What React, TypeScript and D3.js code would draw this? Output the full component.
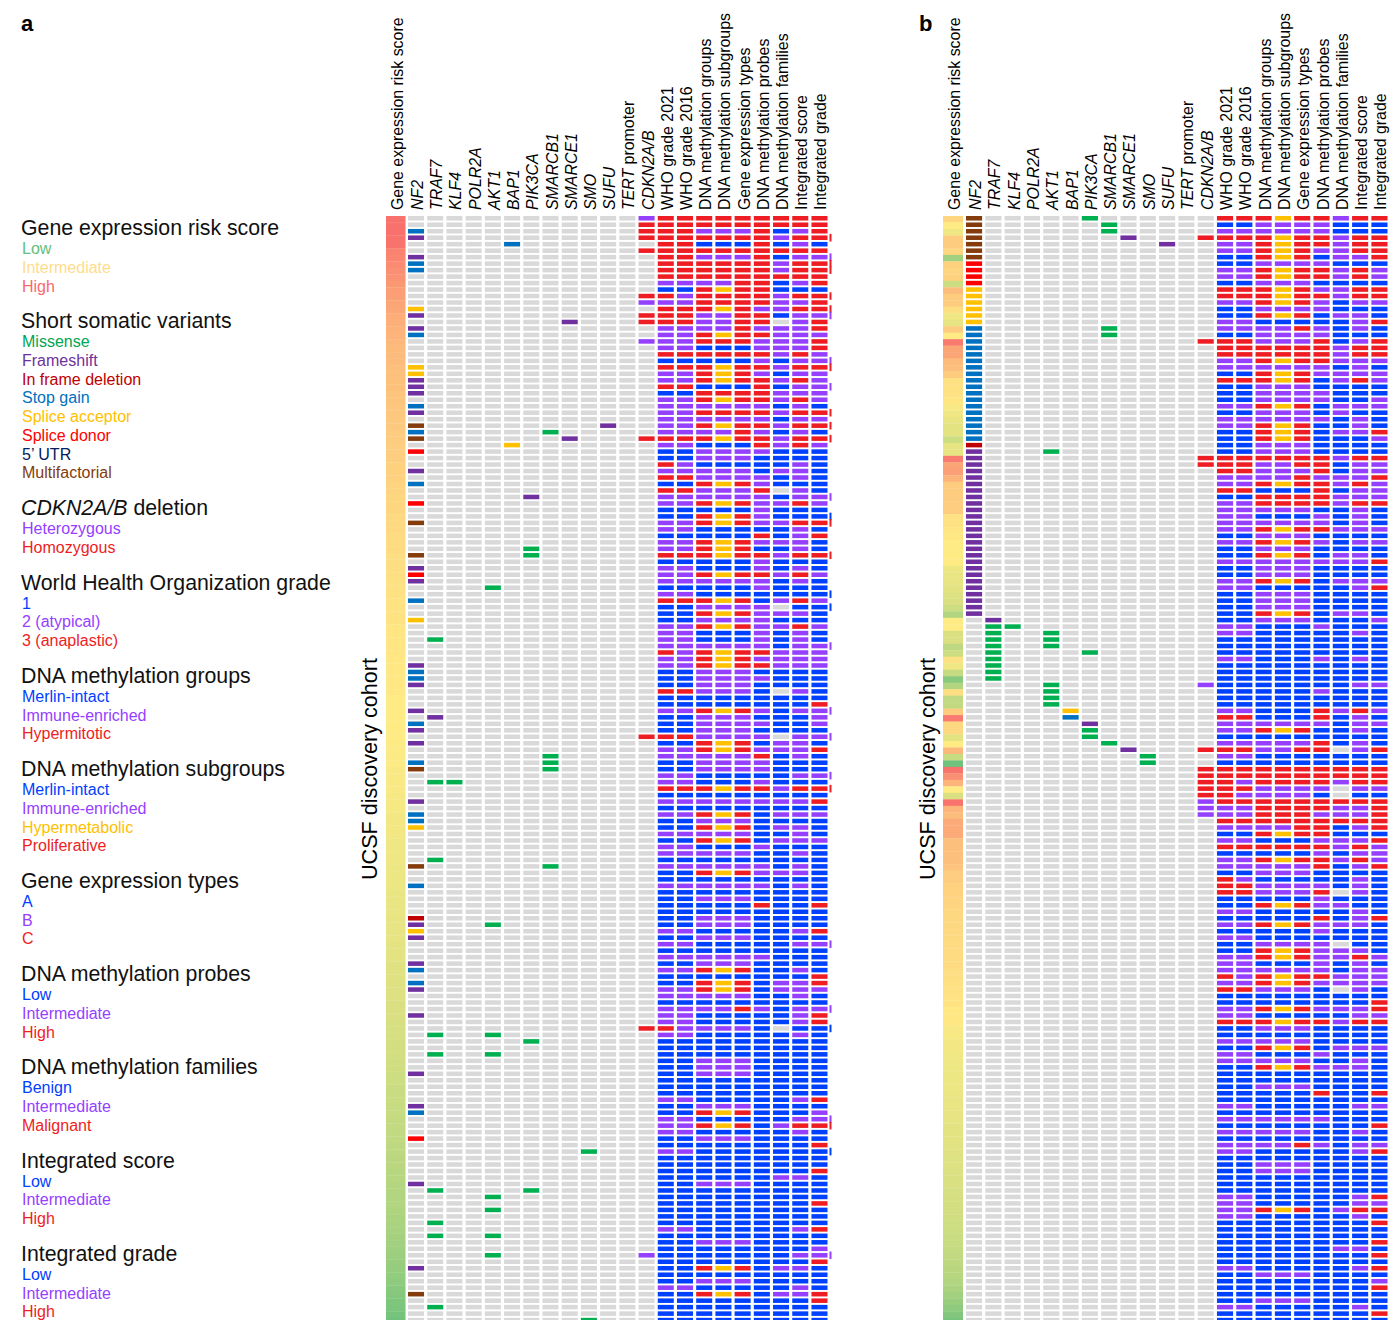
import React from "react";
import * as d3 from "d3";

const ROWS = 171;

const geneCols = ["NF2","TRAF7","KLF4","POLR2A","AKT1","BAP1","PIK3CA","SMARCB1","SMARCE1","SMO","SUFU","TERT","CDKN2A/B"];
const classCols = ["WHO grade 2021","WHO grade 2016","DNA methylation groups","DNA methylation subgroups","Gene expression types","DNA methylation probes","DNA methylation families","Integrated score","Integrated grade"];
const italicGenes = ["NF2","TRAF7","KLF4","POLR2A","AKT1","BAP1","PIK3CA","SMARCB1","SMARCE1","SMO","SUFU","CDKN2A/B"];

// Gene expression risk score (0 low .. 1 high), one per sample row
const riskA = [
0.97,0.97,0.97,0.96,0.96,0.90,0.89,0.87,0.85,0.84,
0.82,0.80,0.79,0.77,0.76,0.74,0.73,0.72,0.71,0.70,
0.69,0.69,0.68,0.67,0.67,0.66,0.66,0.65,0.65,0.64,
0.64,0.63,0.63,0.62,0.62,0.61,0.61,0.61,0.60,0.60,
0.60,0.59,0.59,0.58,0.58,0.58,0.57,0.57,0.57,0.56,
0.56,0.56,0.55,0.55,0.55,0.55,0.54,0.54,0.54,0.53,
0.53,0.53,0.53,0.52,0.52,0.52,0.52,0.52,0.51,0.51,
0.51,0.51,0.51,0.51,0.50,0.50,0.50,0.50,0.50,0.50,
0.50,0.49,0.49,0.49,0.49,0.48,0.48,0.48,0.48,0.47,
0.47,0.47,0.46,0.46,0.46,0.46,0.45,0.45,0.45,0.45,
0.44,0.44,0.44,0.44,0.43,0.43,0.43,0.43,0.42,0.42,
0.42,0.42,0.41,0.41,0.41,0.40,0.40,0.40,0.39,0.39,
0.39,0.38,0.38,0.38,0.37,0.37,0.37,0.36,0.36,0.36,
0.35,0.35,0.34,0.34,0.33,0.33,0.33,0.32,0.32,0.31,
0.31,0.30,0.30,0.29,0.29,0.28,0.28,0.27,0.27,0.26,
0.26,0.25,0.25,0.24,0.23,0.23,0.22,0.21,0.20,0.19,
0.18,0.17,0.16,0.15,0.14,0.12,0.11,0.09,0.08,0.06,
0.04];

const riskB = [
0.58,0.50,0.45,0.62,0.62,0.585,0.20,0.60,0.585,0.60,
0.34,0.68,0.62,0.62,0.55,0.45,0.42,0.62,0.50,0.93,
0.77,0.77,0.69,0.665,0.62,0.54,0.54,0.54,0.52,0.48,
0.45,0.43,0.41,0.41,0.34,0.42,0.42,0.93,0.77,0.79,
0.71,0.62,0.62,0.62,0.62,0.62,0.54,0.54,0.52,0.51,
0.50,0.50,0.50,0.50,0.44,0.43,0.42,0.41,0.39,0.38,
0.34,0.25,0.50,0.50,0.38,0.38,0.29,0.34,0.54,0.45,
0.315,0.12,0.25,0.55,0.30,0.30,0.62,0.93,0.575,0.575,
0.41,0.50,0.70,0.32,0.04,0.96,0.85,0.71,0.50,0.38,
0.96,0.71,0.68,0.75,0.75,0.75,0.665,0.665,0.665,0.665,
0.65,0.62,0.62,0.60,0.60,0.59,0.59,0.575,0.575,0.575,
0.57,0.57,0.565,0.565,0.56,0.56,0.55,0.55,0.54,0.54,
0.53,0.53,0.51,0.51,0.51,0.48,0.47,0.46,0.46,0.455,
0.45,0.45,0.445,0.44,0.44,0.435,0.43,0.43,0.425,0.42,
0.415,0.41,0.41,0.405,0.40,0.395,0.39,0.385,0.38,0.375,
0.37,0.365,0.36,0.355,0.35,0.34,0.335,0.33,0.32,0.31,
0.30,0.29,0.28,0.27,0.25,0.23,0.20,0.17,0.14,0.10,
0.07];

// Short somatic variants: [row, gene, type]
// m missense, f frameshift, d in-frame deletion, s stop gain, a splice acceptor, o splice donor, u 5'UTR, x multifactorial
const variantsA: [number, string, string][] = [
[2,"NF2","s"],[3,"NF2","f"],[6,"NF2","f"],[7,"NF2","s"],[8,"NF2","s"],[14,"NF2","a"],[15,"NF2","f"],[17,"NF2","f"],
[18,"NF2","s"],[23,"NF2","a"],[24,"NF2","a"],[25,"NF2","f"],[26,"NF2","f"],[27,"NF2","f"],[29,"NF2","s"],[30,"NF2","f"],
[32,"NF2","x"],[33,"NF2","s"],[34,"NF2","x"],[36,"NF2","o"],[39,"NF2","f"],[41,"NF2","s"],[44,"NF2","o"],[47,"NF2","x"],
[52,"NF2","x"],[54,"NF2","f"],[55,"NF2","o"],[56,"NF2","f"],[59,"NF2","s"],[62,"NF2","a"],[69,"NF2","f"],[70,"NF2","s"],
[71,"NF2","s"],[72,"NF2","f"],[76,"NF2","f"],[78,"NF2","s"],[79,"NF2","f"],[81,"NF2","f"],[84,"NF2","s"],[85,"NF2","x"],
[90,"NF2","f"],[92,"NF2","s"],[93,"NF2","s"],[94,"NF2","a"],[100,"NF2","x"],[103,"NF2","s"],[108,"NF2","d"],[109,"NF2","f"],
[110,"NF2","a"],[111,"NF2","f"],[115,"NF2","f"],[116,"NF2","s"],[118,"NF2","s"],[119,"NF2","f"],[123,"NF2","f"],[132,"NF2","f"],
[137,"NF2","f"],[138,"NF2","s"],[142,"NF2","o"],[149,"NF2","f"],[162,"NF2","f"],[166,"NF2","x"],
[4,"BAP1","s"],[16,"SMARCE1","f"],[32,"SUFU","f"],[33,"SMARCB1","m"],[34,"SMARCE1","f"],[35,"BAP1","a"],
[43,"PIK3CA","f"],[51,"PIK3CA","m"],[52,"PIK3CA","m"],[57,"AKT1","m"],[65,"TRAF7","m"],[77,"TRAF7","f"],
[83,"SMARCB1","m"],[84,"SMARCB1","m"],[85,"SMARCB1","m"],[87,"TRAF7","m"],[87,"KLF4","m"],[99,"TRAF7","m"],
[100,"SMARCB1","m"],[109,"AKT1","m"],[126,"TRAF7","m"],[126,"AKT1","m"],[127,"PIK3CA","m"],[129,"TRAF7","m"],
[129,"AKT1","m"],[144,"SMO","m"],[150,"TRAF7","m"],[150,"PIK3CA","m"],[151,"AKT1","m"],[153,"AKT1","m"],
[155,"TRAF7","m"],[157,"TRAF7","m"],[157,"AKT1","m"],[160,"AKT1","m"],[168,"TRAF7","m"],[170,"SMO","m"]
];

const variantsB: [number, string, string][] = [
[0,"NF2","x"],[1,"NF2","x"],[2,"NF2","x"],[3,"NF2","x"],[4,"NF2","x"],[5,"NF2","x"],[6,"NF2","x"],
[7,"NF2","o"],[8,"NF2","o"],[9,"NF2","o"],[10,"NF2","o"],
[11,"NF2","a"],[12,"NF2","a"],[13,"NF2","a"],[14,"NF2","a"],[15,"NF2","a"],[16,"NF2","a"],
[17,"NF2","s"],[18,"NF2","s"],[19,"NF2","s"],[20,"NF2","s"],[21,"NF2","s"],[22,"NF2","s"],[23,"NF2","s"],[24,"NF2","s"],
[25,"NF2","s"],[26,"NF2","s"],[27,"NF2","s"],[28,"NF2","s"],[29,"NF2","s"],[30,"NF2","s"],[31,"NF2","s"],[32,"NF2","s"],
[33,"NF2","s"],[34,"NF2","s"],[35,"NF2","d"],
[36,"NF2","f"],[37,"NF2","f"],[38,"NF2","f"],[39,"NF2","f"],[40,"NF2","f"],[41,"NF2","f"],[42,"NF2","f"],[43,"NF2","f"],
[44,"NF2","f"],[45,"NF2","f"],[46,"NF2","f"],[47,"NF2","f"],[48,"NF2","f"],[49,"NF2","f"],[50,"NF2","f"],[51,"NF2","f"],
[52,"NF2","f"],[53,"NF2","f"],[54,"NF2","f"],[55,"NF2","f"],[56,"NF2","f"],[57,"NF2","f"],[58,"NF2","f"],[59,"NF2","f"],
[60,"NF2","f"],[61,"NF2","f"],
[0,"PIK3CA","m"],[1,"SMARCB1","m"],[2,"SMARCB1","m"],[3,"SMARCE1","f"],[4,"SUFU","f"],[17,"SMARCB1","m"],[18,"SMARCB1","m"],
[36,"AKT1","m"],[62,"TRAF7","f"],[63,"TRAF7","m"],[63,"KLF4","m"],[64,"TRAF7","m"],[64,"AKT1","m"],[65,"TRAF7","m"],
[65,"AKT1","m"],[66,"TRAF7","m"],[66,"AKT1","m"],[67,"TRAF7","m"],[67,"PIK3CA","m"],[68,"TRAF7","m"],[69,"TRAF7","m"],
[70,"TRAF7","m"],[71,"TRAF7","m"],[72,"AKT1","m"],[73,"AKT1","m"],[74,"AKT1","m"],[75,"AKT1","m"],[76,"BAP1","a"],
[77,"BAP1","s"],[78,"PIK3CA","f"],[79,"PIK3CA","m"],[80,"PIK3CA","m"],[81,"SMARCB1","m"],[82,"SMARCE1","f"],
[83,"SMO","m"],[84,"SMO","m"]
];

// CDKN2A/B deletion: h heterozygous, H homozygous
const cdknA: [number, string][] = [[0,"h"],[1,"H"],[2,"H"],[3,"H"],[5,"H"],[12,"H"],[13,"h"],[15,"H"],[16,"H"],[19,"h"],[34,"H"],[80,"H"],[125,"H"],[160,"h"]];
const cdknB: [number, string][] = [[3,"H"],[19,"H"],[37,"H"],[38,"H"],[72,"h"],[82,"H"],[85,"H"],[86,"H"],[87,"H"],[88,"H"],[89,"H"],[90,"h"],[91,"h"],[92,"h"]];

// Classifications per sample (WHO21, WHO16, DMG, DMS, GET, DMP, DMF, IS, IG): b low/1/Merlin-intact, p intermediate, r high, y hypermetabolic, . missing
const classesA = [
"rrrrrrrrr","rrrrrrrrr","rrppprbpr","rrrrrrprr","rrbbbrbpb","rrrrrrrrr","rrppprbpp","rrrrrrprr","rrrrrrprr","rrrrrrrrr",
"pppprrbpr","bbryrrbbb","rprrrrprr","pprrrrppr","rrryrpprr","rrpprrbpp","rrpprr.pr","pppprpppr","ppryrrppp","pprrrpppr",
"ppbbbpppr","rrrrrrprp","bbbbbpbpp","rrryrrprr","ppryrpbpp","ppryrrprp","rrbbbrbpp","bbrrrrppp","ppryrrprp","ppppppbpb",
"pprrrrprr","ppppppbpp","ppryrrprr","pppprpbpb","rrryrrprr","ppbbbrprp","bbppppbbb","bbpppbbbb","rpbbbbbpb","pppppbppb",
"rrppppbpb","bbryrpbbb","rrpppr.pb","ppppppbpp","ppryrpprp","bbbbbpbbb","bbryrpbbb","ppryrpprr","ppbbbbbpb","bbbbbrbpr",
"ppryrpppb","ppryrbbpb","rrryrrprr","bbbbbpbbb","ppbbbpbpb","ppryrrprp","ppppppbpb","bbbbbpbbb","ppbbbbbbb","rrryrbprp",
"bbpppp.bb","bbryrpppb","bbppppbbb","ppryrpprp","ppbbbpbpb","ppbbbpbpb","ppppppbpp","rpryrrppp","ppryrpppp","ppryrrppp",
"bbpppbbbb","bbppppbbb","bbpppbbbb","rrpppb.pb","bbbbbbbbb","bbbbbbbbr","ppryrpbpp","bbpppbbbp","bbppppbbp","bbpppbbbb",
"rrpppp.pp","bbryrbppb","ppryrpppr","ppppprbpb","bbppppbbb","bbppppbbb","ppbbbbbpp","ppbbbpbbb","rrryrrprr","bbbbbbbbb",
"ppppppppr","bbbbbbbbb","ppryrbppp","bbpppbbbb","bbryrbppb","pppppbbpb","bbryrbppp","ppbbbpbbb","pppppbbpb","bbbbbbbbb",
"ppppppbpb","bbryrpppb","bbbbbbbbb","ppppppbpb","bbbbbbbbb","bbpppbbbb","bbbbbrbbr","bbbbbbbbb","bbpppbbbb","bbpppbbbb",
"ppbbbbbpr","bbpppbbbb","ppbbbbbpp","bbbbbbbbb","ppppppbbb","bbpppbbbb","ppryrbbpb","bbbbbbbbr","bbryrbppr","ppryrbppp",
"pppppbbpb","bbbbbbbbb","pppprpbpp","ppbbbbbpr","ppbbbbbpr","rppppb.bb","ppbbbbbpb","bbbbbbbbb","bbbbbbbbb","bbbbbbbbb",
"bbpppbbbb","bbpppbbbb","bbpppbbbb","bbbbbbbbb","bbbbbbbbb","bbbbbbbbb","ppbbbbbpr","bbpppbbbb","bbryrbbbp","ppbbbbbpp",
"ppryrbprr","ppbbbbbpb","bbpppbbbb","bbbbbbbbr","ppbbbbbbb","bbbbbbbbb","bbbbbbbbb","bbbbbbbbr","bbbbbbppb","bbpppbbbb",
"bbbbbbbbb","bbbbbbbbb","bbbbbbbbr","bbbbbbbbb","bbbbbbbbb","bbbbbbbbb","ppbbbbbpr","bbbbbbbbb","bbpppbbbb","bbbbbbbbp",
"bbbbbbbpp","bbbbbbbbr","bbryrbppb","bbbbbbbbb","bbpppbbbb","ppbbbbbpb","bbryrbppr","bbbbbbbbr","bbbbbbbbb","bbbbbbbbb",
"bbbbbbbbb"
];

const classesB = [
"rrryrrprr","bbppppbbb","ppppppbbb","rrryrrprr","ppryrrprr","ppryrpprr","bbryrbppr","bbppppbbb","ppryrrprp","ppryrrprp",
"bbpppbbbb","rrryrpprr","rrryrrprr","ppryrpbpp","bbppppbbb","bbryrbppb","ppbbbbbpr","pppprpbpb","bbppppbbb","rrppprbpr",
"rrrrrrprr","rrrrrrprr","ppryrrppp","ppppppbpb","bbryrpppp","rrryrbprp","bbpppbbbb","bbppppbbb","bbppppbbp","ppryrbppp",
"bbpppbpbb","ppppppbpb","ppryrbbpb","bbryrbppr","bbryrbbbp","bbpppbbbb","bbpppbbbb","rrrrrrprr","rrpprrbpp","rrppprbpp",
"pppprpppr","ppryrrprp","rrbbbrbpp","bbrrrrppp","pprrrrprr","pppppbbpb","ppbbbpbpb","ppppppbpb","ppryrrppp","bbpppbbbb",
"ppryrpbpp","bbpppbbbb","bbryrbppb","ppppppppr","bbpppbbbb","bbpppbbbb","ppryrbppp","ppbbbbbpr","bbpppbbbb","bbpppbbbb",
"bbpppbbbb","bbryrbppb","bbpppbbbp","ppbbbpbbb","ppbbbbbpb","bbbbbbbbb","bbbbbbbbb","bbbbbbbbb","ppbbbpbpb","bbbbbbbbb",
"bbbbbbbbb","bbbbbbbbb","bbbbbbbpp","bbbbbpbbb","bbbbbbbbb","bbbbbbbbb","ppbbbrprp","rrbbbrbpb","ppppppbpp","ppryrbbpb",
"bbbbbbbbb","ppppprbpb","rrpprr.pr","ppbbbbbbb","bbbbbbbbb","rrrrrrrrr","rrrrrrrrr","rprrrrprr","rrpppp.pp","rppppb.bb",
"rrrrrrrrr","pprrrrppr","pprrrpppr","rrrrrrrrr","pppprrbpr","bbryrrbbb","ppbbbpppr","rrrrrrprp","bbbbbpbpp","ppryrrprp",
"ppppprbpr","bbpppbbbb","rpbbbbbpb","rrppppbpb","rrpppr.pb","bbbbbpbbb","bbryrppbb","ppbbbbbpb","bbbbbrbpr","ppryrpppb",
"bbbbbpbbb","ppbbbbbbb","bbpppp.bb","bbryrpppb","ppryrpprp","ppbbbpbpb","ppppppbpp","rpryrrppp","ppryrpppp","rrpppb.pb",
"bbbbbbbbb","bbbbbbbbr","ppryrpppr","ppbbbbbpp","rrryrrprr","bbpppbbbb","bbbbbbbbb","pppppbbbb","bbryrbppp","ppbbbpbbb",
"pppppbbpb","bbryrpppb","bbbbbbbbb","bbbbbbbbb","bbpppbbbb","bbbbbrbbr","bbbbbbbbb","ppbbbbbpp","bbbbbbbbb","ppppppbbb",
"bbbbbbbbr","pppppbbpb","bbbbbbbbb","pppprpbpp","ppbbbbbpr","bbbbbbbbb","bbpppbbbb","bbpppbbbb","bbbbbbbbb","bbbbbbbbb",
"bbbbbbbbb","ppbbbbbpr","ppbbbbbpp","ppryrbprr","ppbbbbbpb","bbbbbbbbr","bbbbbbbbb","bbbbbbbbb","bbbbbbbbr","bbbbbbppb",
"bbbbbbbbr","bbbbbbbbb","ppbbbbbpr","bbpppbbbb","bbbbbbbbp","bbbbbbbbr","bbbbbbbbb","bbpppbbbb","ppbbbbbpb","bbbbbbbbr",
"bbbbbbbbb"
];

// small clipped marks right of panel a
const edgeMarksA: [number, string][] = [
[3,"r"],[6,"p"],[7,"r"],[8,"r"],[12,"r"],[14,"r"],[15,"p"],[22,"p"],[23,"r"],[26,"p"],[30,"r"],[32,"r"],[34,"r"],
[43,"p"],[46,"b"],[47,"r"],[52,"r"],[58,"b"],[60,"b"],[66,"p"],[76,"p"],[80,"p"],[86,"p"],[88,"r"],[112,"p"],
[122,"p"],[125,"b"],[139,"p"],[140,"r"],[144,"b"],[160,"p"]
];

const variantColor: Record<string, string> = {
  m: "#00B050", f: "#7030A0", d: "#C00000", s: "#0070C0", a: "#FFC000", o: "#FF0000", u: "#002060", x: "#843C0C",
};
const cdknColor: Record<string, string> = { h: "#9540FF", H: "#EE1D23" };
const classColor: Record<string, string> = { b: "#0040FF", p: "#9540FF", r: "#EE1D23", y: "#FFC000", ".": "#D9D9D9" };
const GRAY = "#D9D9D9";

const riskColor = d3.scaleLinear<string>().domain([0, 0.5, 1]).range(["#63BE7B", "#FFEB84", "#F8696B"]);

const legendGroups: { title: string; italicPart?: string; items: [string, string][] }[] = [
  { title: "Gene expression risk score", items: [["Low", "#63BE7B"], ["Intermediate", "#FFDC8C"], ["High", "#F8696B"]] },
  { title: "Short somatic variants", items: [["Missense", "#00A651"], ["Frameshift", "#7030A0"], ["In frame deletion", "#C00000"], ["Stop gain", "#0070C0"], ["Splice acceptor", "#FFC000"], ["Splice donor", "#FF0000"], ["5\u2019 UTR", "#002060"], ["Multifactorial", "#843C0C"]] },
  { title: " deletion", italicPart: "CDKN2A/B", items: [["Heterozygous", "#9540FF"], ["Homozygous", "#EE1D23"]] },
  { title: "World Health Organization grade", items: [["1", "#0040FF"], ["2 (atypical)", "#9540FF"], ["3 (anaplastic)", "#EE1D23"]] },
  { title: "DNA methylation groups", items: [["Merlin-intact", "#0040FF"], ["Immune-enriched", "#9540FF"], ["Hypermitotic", "#EE1D23"]] },
  { title: "DNA methylation subgroups", items: [["Merlin-intact", "#0040FF"], ["Immune-enriched", "#9540FF"], ["Hypermetabolic", "#FFC000"], ["Proliferative", "#EE1D23"]] },
  { title: "Gene expression types", items: [["A", "#0040FF"], ["B", "#9540FF"], ["C", "#EE1D23"]] },
  { title: "DNA methylation probes", items: [["Low", "#0040FF"], ["Intermediate", "#9540FF"], ["High", "#EE1D23"]] },
  { title: "DNA methylation families", items: [["Benign", "#0040FF"], ["Intermediate", "#9540FF"], ["Malignant", "#EE1D23"]] },
  { title: "Integrated score", items: [["Low", "#0040FF"], ["Intermediate", "#9540FF"], ["High", "#EE1D23"]] },
  { title: "Integrated grade", items: [["Low", "#0040FF"], ["Intermediate", "#9540FF"], ["High", "#EE1D23"]] },
];

const FONT = "'Liberation Sans', Arial, Helvetica, sans-serif";
const HEADER_FS = 15.9;

const rowScale = d3.scaleBand<number>()
  .domain(Array.from({ length: ROWS }, (_, i) => i))
  .range([216, 216 + ROWS * 6.47])
  .paddingInner(0.3)
  .paddingOuter(0);

const allCols = [...geneCols, ...classCols];

function Panel(props: {
  label: string; riskX: number; riskW: number; colRange: [number, number];
  risk: number[]; variants: [number, string, string][]; cdkn: [number, string][]; classes: string[];
  cohortX: number; marks?: [number, string][];
}) {
  const { label, riskX, riskW, colRange, risk, variants, cdkn, classes, cohortX, marks } = props;
  const x = d3.scaleBand<string>().domain(allCols).range(colRange).paddingInner(0.165).paddingOuter(0);
  const bw = x.bandwidth();
  const rh = rowScale.bandwidth();
  const step = rowScale.step();
  const varMap = new Map<string, string>();
  variants.forEach(([r, g, t]) => varMap.set(r + "|" + g, t));
  const cdknMap = new Map<number, string>(cdkn);
  const rows = Array.from({ length: ROWS }, (_, i) => i);
  const headerY = 210;
  return (
    <g>
      <text x={label === "a" ? 21 : 919} y={31} fontFamily={FONT} fontWeight="bold" fontSize={22}>{label}</text>
      {/* headers */}
      <text transform={`translate(${riskX + riskW / 2 + 1.5},${headerY}) rotate(-90)`} fontFamily={FONT} fontSize={HEADER_FS} dominantBaseline="central">Gene expression risk score</text>
      {allCols.map((c) => {
        const cx = (x(c) as number) + bw / 2 + 1;
        return (
          <text key={c} transform={`translate(${cx},${headerY}) rotate(-90)`} fontFamily={FONT} fontSize={HEADER_FS} dominantBaseline="central">
            {c === "TERT" ? (<><tspan fontStyle="italic">TERT</tspan><tspan> promoter</tspan></>) :
              <tspan fontStyle={italicGenes.includes(c) ? "italic" : "normal"}>{c}</tspan>}
          </text>
        );
      })}
      {/* risk column */}
      {rows.map((r) => (
        <rect key={"rk" + r} x={riskX} y={rowScale(r) as number} width={riskW} height={step + 0.3} fill={riskColor(risk[r])} />
      ))}
      {/* gene columns */}
      {rows.map((r) => geneCols.map((g) => {
        let fill = GRAY;
        if (g === "CDKN2A/B") {
          const c = cdknMap.get(r);
          if (c) fill = cdknColor[c];
        } else {
          const t = varMap.get(r + "|" + g);
          if (t) fill = variantColor[t];
        }
        return <rect key={g + r} x={x(g) as number} y={rowScale(r) as number} width={bw} height={rh} fill={fill} />;
      }))}
      {/* classification columns */}
      {rows.map((r) => classCols.map((c, j) => (
        <rect key={c + r} x={x(c) as number} y={rowScale(r) as number} width={bw} height={rh} fill={classColor[classes[r][j]]} />
      )))}
      {marks && marks.map(([r, c]) => (
        <rect key={"mk" + r} x={colRange[1] + 2} y={(rowScale(r) as number) - 1.5} width={2} height={rh + 3} fill={classColor[c]} />
      ))}
      <text transform={`translate(${cohortX},${769}) rotate(-90)`} fontFamily={FONT} fontSize={21.6} textAnchor="middle" dominantBaseline="central">UCSF discovery cohort</text>
    </g>
  );
}

function Legend() {
  let y = 228;
  const out: React.ReactNode[] = [];
  legendGroups.forEach((g, gi) => {
    out.push(
      <text key={"t" + gi} x={21} y={y} fontFamily={FONT} fontSize={21.3} dominantBaseline="central" fill="#111">
        {g.italicPart ? <tspan fontStyle="italic">{g.italicPart}</tspan> : null}
        <tspan>{g.title}</tspan>
      </text>
    );
    y += 20.5;
    g.items.forEach(([lab, col], ii) => {
      out.push(<text key={"i" + gi + "_" + ii} x={22} y={y} fontFamily={FONT} fontSize={16} dominantBaseline="central" fill={col}>{lab}</text>);
      if (ii < g.items.length - 1) y += 18.75;
    });
    y += 35.2;
  });
  return <g>{out}</g>;
}

export default function App() {
  return (
    <div style={{ position: "absolute", left: 0, top: 0 }}>
      <svg width={1395} height={1320} style={{ display: "block", background: "#fff" }}>
        <Legend />
        <Panel label="a" riskX={386} riskW={19.5} colRange={[408, 827.5]} risk={riskA} variants={variantsA} cdkn={cdknA} classes={classesA} cohortX={369} marks={edgeMarksA} />
        <Panel label="b" riskX={943} riskW={20} colRange={[966, 1387.5]} risk={riskB} variants={variantsB} cdkn={cdknB} classes={classesB} cohortX={927} />
      </svg>
    </div>
  );
}
